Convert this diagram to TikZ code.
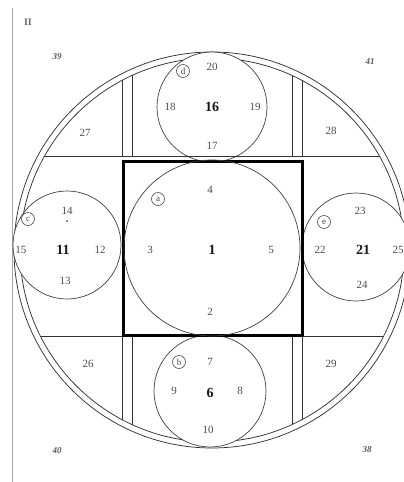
\documentclass[tikz,border=0pt]{standalone}
\usepackage{fontspec}
\setmainfont{Liberation Serif}
\begin{document}
\begin{tikzpicture}[x=1pt,y=-1pt,
  thinline/.style={line width=0.75pt, draw=black!80},
  circ/.style={circle, draw=black!75, line width=0.7pt, inner sep=0pt},
  num/.style={font=\fontsize{11}{11}\selectfont, text=black!70, inner sep=1pt},
  big/.style={font=\fontsize{14}{14}\selectfont\bfseries, text=black!90, inner sep=1pt},
  corner/.style={font=\fontsize{9}{9}\selectfont\itshape\bfseries, text=black!65, inner sep=1pt},
  tag/.style={circle, draw=black!70, line width=0.6pt, inner sep=0pt, minimum size=13pt, font=\fontsize{9}{9}\selectfont, text=black!75}]
\clip (0,0) rectangle (404,482);
\fill[white] (0,0) rectangle (404,482);
\draw[black!35, line width=0.6pt] (12,8) -- (12,482);
\coordinate (O) at (212,250);
% double ring
\draw[thinline] (O) circle (198pt);
\draw[thinline] (O) circle (192pt);
% small circles (white-filled, covering the ring)
\node[circ, fill=white, minimum size=110pt] (cd) at (212,107) {};
\node[circ, fill=white, minimum size=112pt] (cb) at (210,391) {};
\node[circ, fill=white, minimum size=108pt] (cc) at (67,245) {};
\node[circ, fill=white, minimum size=108pt] (ce) at (356,247) {};
% grid lines inside the ring
\begin{scope}
  \clip (O) circle (192pt);
  \draw[thinline] (0,156) -- (404,156);
  \draw[thinline] (0,336) -- (404,336);
  \foreach \x in {122,132,292,302} {
    \draw[thinline] (\x,0) -- (\x,156);
    \draw[thinline] (\x,336) -- (\x,482);
  }
\end{scope}
% thick square
\draw[line width=3pt, black] (123,161) rectangle (302,335);
% central circle
\node[circ, minimum size=176pt] (ca) at (212,248) {};
% labels
\node[font=\fontsize{10}{10}\selectfont\bfseries, text=black!60] (roman) at (28,22) {II};
\node[corner] (n39) at (57,57) {39};
\node[corner] (n41) at (370,62) {41};
\node[corner] (n40) at (57,451) {40};
\node[corner] (n38) at (367,450) {38};
\node[num] (n27) at (85,133) {27};
\node[num] (n28) at (331,131) {28};
\node[num] (n26) at (88,364) {26};
\node[num] (n29) at (331,364) {29};
% circle d
\node[tag] (td) at (183,71) {d};
\node[num] (n20) at (212,67) {20};
\node[num] (n18) at (170,107) {18};
\node[big] (n16) at (212,107) {16};
\node[num] (n19) at (255,107) {19};
\node[num] (n17) at (212,146) {17};
% circle a
\node[tag] (ta) at (158,199) {a};
\node[num] (n4) at (210,190) {4};
\node[num] (n3) at (150,250) {3};
\node[big] (n1) at (212,250) {1};
\node[num] (n5) at (271,250) {5};
\node[num] (n2) at (210,312) {2};
% circle c
\node[tag] (tc) at (28,219) {c};
\node[num] (n14) at (67,211) {14};
\fill[black!70] (67,221) circle (1pt);
\node[num] (n15) at (21,250) {15};
\node[big] (n11) at (63,250) {11};
\node[num] (n12) at (100,250) {12};
\node[num] (n13) at (65,281) {13};
% circle e
\node[tag] (te) at (324,222) {e};
\node[num] (n23) at (360,211) {23};
\node[num] (n22) at (320,250) {22};
\node[big] (n21) at (363,250) {21};
\node[num] (n25) at (398,250) {25};
\node[num] (n24) at (362,285) {24};
% circle b
\node[tag] (tb) at (179,362) {b};
\node[num] (n7) at (210,362) {7};
\node[num] (n9) at (174,391) {9};
\node[big] (n6) at (210,393) {6};
\node[num] (n8) at (240,391) {8};
\node[num] (n10) at (208,430) {10};
\end{tikzpicture}
\end{document}
